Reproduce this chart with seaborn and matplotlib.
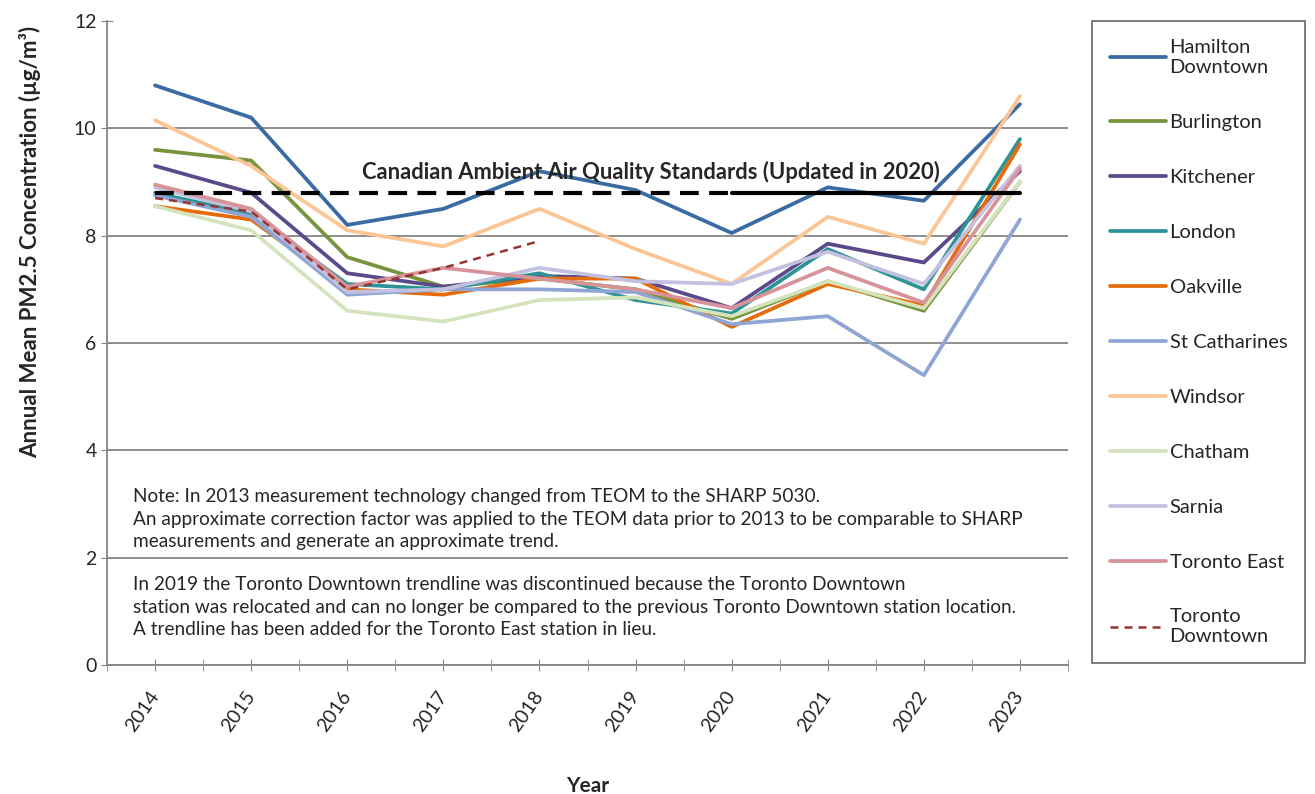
import pandas as pd
import seaborn as sns
import matplotlib.pyplot as plt
from matplotlib.ticker import MultipleLocator

years = ['2014', '2015', '2016', '2017', '2018', '2019', '2020', '2021', '2022', '2023']

hamilton = [10.8, 10.2, 8.2, 8.5, 9.2, 8.85, 8.05, 8.9, 8.65, 10.45]
burlington = [9.6, 9.4, 7.6, 7.05, 7.2, 7.0, 6.45, 7.15, 6.6, 9.0]
kitchener = [9.3, 8.8, 7.3, 7.05, 7.25, 7.2, 6.65, 7.85, 7.5, 9.2]
london = [8.8, 8.4, 7.1, 7.0, 7.3, 6.8, 6.55, 7.75, 7.0, 9.8]
oakville = [8.55, 8.3, 7.0, 6.9, 7.2, 7.2, 6.3, 7.1, 6.7, 9.7]
st_catharines = [8.75, 8.35, 6.9, 7.0, 7.0, 6.95, 6.35, 6.5, 5.4, 8.3]
windsor = [10.15, 9.3, 8.1, 7.8, 8.5, 7.75, 7.1, 8.35, 7.85, 10.6]
chatham = [8.55, 8.1, 6.6, 6.4, 6.8, 6.85, 6.5, 7.15, 6.65, 9.0]
sarnia = [8.9, 8.45, 6.95, 7.0, 7.4, 7.15, 7.1, 7.7, 7.1, 9.3]
toronto_east = [8.95, 8.5, 7.05, 7.4, 7.2, 7.0, 6.65, 7.4, 6.75, 9.25]
toronto_downtown = [8.7, 8.45, 7.0, 7.4, 7.9]

caaqs = 8.8

stations = {
    'Hamilton\nDowntown': (hamilton, '#3A6BA3'),
    'Burlington': (burlington, '#77933C'),
    'Kitchener': (kitchener, '#5B4A8A'),
    'London': (london, '#2E9396'),
    'Oakville': (oakville, '#E46C0A'),
    'St Catharines': (st_catharines, '#8FA6D4'),
    'Windsor': (windsor, '#FBC596'),
    'Chatham': (chatham, '#D5E3BC'),
    'Sarnia': (sarnia, '#C3C0E0'),
    'Toronto East': (toronto_east, '#D7939A'),
}

sns.set_style('white')
plt.rcParams['font.family'] = ['Lato', 'DejaVu Sans']

fig = plt.figure(figsize=(13.15, 7.94), dpi=100)
ax = fig.add_axes([107 / 1315, 1 - 665 / 794, (1068 - 107) / 1315, (665 - 21) / 794])

pos = list(range(len(years)))

for name, (vals, col) in stations.items():
    sns.lineplot(x=pos[:len(vals)], y=vals, color=col, lw=2.7, ax=ax, label=name)

sns.lineplot(x=pos[:len(toronto_downtown)], y=toronto_downtown, color='#943634',
             lw=1.8, ax=ax, label='Toronto\nDowntown')
ax.lines[-1].set_dashes((3.2, 2.4))

# CAAQS line: dashed before 2020, solid afterwards
i2020 = years.index('2020')
ax.plot(pos[:i2020 + 1], [caaqs] * (i2020 + 1), color='black', lw=3, dashes=(4.5, 2.5))
ax.plot(pos[i2020:], [caaqs] * (len(years) - i2020), color='black', lw=3)
ax.text(5.16, 9.19, 'Canadian Ambient Air Quality Standards (Updated in 2020)',
        ha='center', va='center', fontsize=15.8, fontweight='bold')

note1 = ('Note: In 2013 measurement technology changed from TEOM to the SHARP 5030.\n'
         'An approximate correction factor was applied to the TEOM data prior to 2013 to be comparable to SHARP\n'
         'measurements and generate an approximate trend.')
note2 = ('In 2019 the Toronto Downtown trendline was discontinued because the Toronto Downtown\n'
         'station was relocated and can no longer be compared to the previous Toronto Downtown station location.\n'
         'A trendline has been added for the Toronto East station in lieu.')
ax.text(-0.23, 3.30, note1, ha='left', va='top', fontsize=13.7, linespacing=1.4)
ax.text(-0.23, 1.66, note2, ha='left', va='top', fontsize=13.7, linespacing=1.4)

ax.set_xlim(-0.5, len(years) - 0.5)
ax.set_ylim(0, 12)
ax.set_xticks(pos)
ax.set_xticklabels(years, rotation=55, fontsize=14, ha='right', va='center',
                   rotation_mode='anchor')
ax.xaxis.set_minor_locator(MultipleLocator(1, offset=0.5))
ax.yaxis.set_major_locator(MultipleLocator(2))
ax.tick_params(axis='y', labelsize=14, direction='inout', length=8, color='#868686', left=True)
ax.tick_params(axis='x', which='both', direction='inout', length=8, color='#868686', bottom=True)
ax.tick_params(axis='x', pad=16)

ax.grid(axis='y', color='#868686', lw=1.3)
for gl, t in zip(ax.yaxis.get_gridlines(), ax.get_yticks()):
    if t >= 12:
        gl.set_visible(False)

for s in ['top', 'right']:
    ax.spines[s].set_visible(False)
for s in ['left', 'bottom']:
    ax.spines[s].set_color('#868686')
    ax.spines[s].set_linewidth(1.3)

ax.set_xlabel('Year', fontsize=15, fontweight='bold', labelpad=30)
ax.set_ylabel('Annual Mean PM2.5 Concentration (µg/m³)', fontsize=16, fontweight='bold')
ax.yaxis.set_label_coords((41 - 107) / 961, (665 - 242) / 644)

leg = ax.legend(loc='upper left', bbox_to_anchor=((1092 - 107) / 961, 1.0), fontsize=14.5,
                frameon=True, fancybox=False, edgecolor='#404040', labelspacing=1.88,
                handlelength=2.75, handletextpad=0.2, borderaxespad=0, borderpad=0.9)
leg.get_frame().set_linewidth(1.2)

plt.savefig('out.png', dpi=100)
